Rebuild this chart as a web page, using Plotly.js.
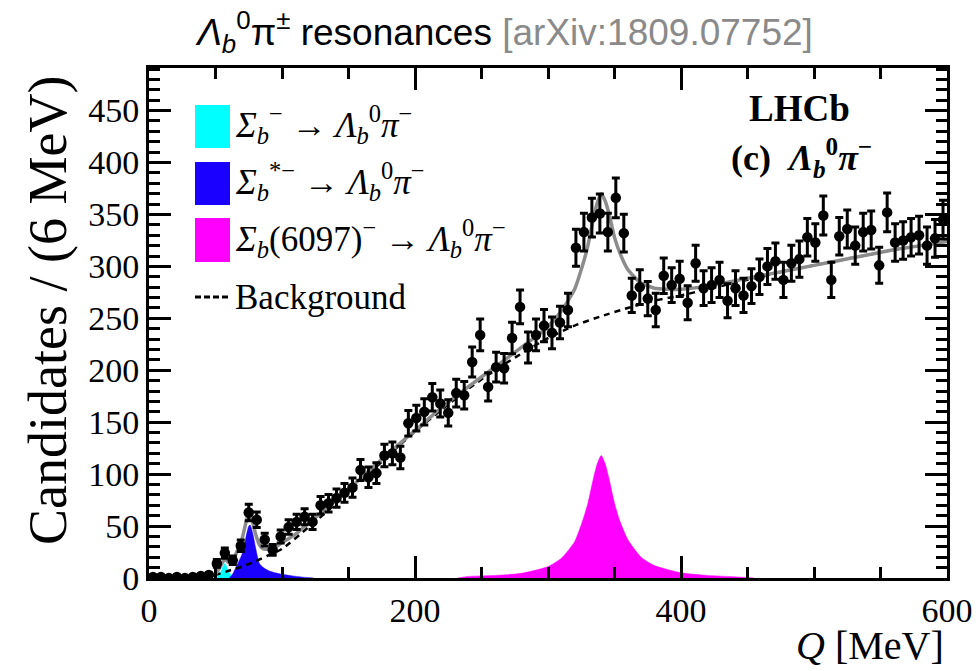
<!DOCTYPE html>
<html>
<head>
<meta charset="utf-8">
<script src="https://cdn.plot.ly/plotly-3.0.1.min.js"></script>
<style>
  html, body { margin: 0; padding: 0; background: #fff; }
  #chart { width: 979px; height: 671px; }
</style>
</head>
<body>
<div id="chart"></div>
<script>
// Q spectrum of Λb0 π− candidates, 6 MeV bins (bin centres)
const binCenters = [3,9,15,21,27,33,39,45,51,57,63,69,75,81,87,93,99,105,111,117,
  123,129,135,141,147,153,159,165,171,177,183,189,195,201,207,213,219,225,231,237,
  243,249,255,261,267,273,279,285,291,297,303,309,315,321,327,333,339,345,351,357,
  363,369,375,381,387,393,399,405,411,417,423,429,435,441,447,453,459,465,471,477,
  483,489,495,501,507,513,519,525,531,537,543,549,555,561,567,573,579,585,591,597];
const candidates = [1,1,0,1,0,1,2,3,14,24,17,31,63,56,37,27,40,49,54,59,
  54,70,72,77,82,87,104,97,101,118,120,116,149,154,160,174,168,159,178,176,
  208,234,184,203,202,231,261,222,234,243,236,246,258,318,333,347,351,333,366,332,
  272,280,269,258,291,282,288,265,303,279,282,287,267,279,272,281,290,300,305,287,
  303,307,328,323,349,287,329,336,320,333,335,301,352,323,325,328,330,320,327,345];

// Fit components
const totalQ = [0,20,40,50,54,57,60,63,66,70,73,75,77,80,83,86,90,95,100,110,120,140,160,180,200,220,240,260,280,300,310,320,326,330,334,337,340,343,346,350,354,360,370,380,390,400,420,440,460,480,500,520,540,560,580,600];
const totalFit = [0,0.3,1,4,12,18,15,17,25,38,54,62,58,43,32,28,28,30,34,42,53,74,97,120,142,164,184,203,222,242,257,278,301,320,345,361,370,363,350,328,313,297,284,279,278,278,281,286,291,296,301,306,311,316,320,324];

const bkgQ = [0,20,40,50,60,70,80,90,100,120,140,160,180,200,220,240,260,280,300,320,340,360,380,400,420,440,460,480,500,520,540,560,580,600];
const bkgFit = [0,0.2,1,3,7,11,16,22,28,49,71,94,118,141,162,182,200,216,231,243,252,260,267,272,278,284,290,296,301,306,311,316,320,324];

const sigmaBQ = [50,52,54,56,57,58,60,62,65,70];
const sigmaBFit = [0,2,6,12,14,12,6,3,1,0];

const sigmaBStarQ = [60.5,63,66,69,71,73,75,76,78,80,83,86,90,95,100,108,116,124];
const sigmaBStarFit = [0,4,12,20,27,40,50,51,43,30,14,10,7,5,3.5,2,0.8,0];

const sigma6097Q = [232,240,260,280,300,310,320,326,330,334,337,340,343,346,350,354,360,370,380,400,420,440,455];
const sigma6097Fit = [0,1.5,2.5,4.5,11,19,35,55,72,95,110,118,110,95,72,55,37,20,12,5,2.5,1.2,0];

const xTicks = [0, 200, 400, 600];
const yTicks = [0, 50, 100, 150, 200, 250, 300, 350, 400, 450];

const SERIF = 'Liberation Serif, Times New Roman, serif';
const SANS = 'Liberation Sans, Arial, sans-serif';

const fillTrace = (x, y, color) => ({
  x, y, type: 'scatter', mode: 'lines', fill: 'tozeroy',
  fillcolor: color, line: {color: color, width: 0.5, shape: 'spline', smoothing: 0.6},
  hoverinfo: 'skip', showlegend: false
});

const traces = [
  fillTrace(sigma6097Q, sigma6097Fit, '#FF00FF'),
  fillTrace(sigmaBQ, sigmaBFit, '#00FFFF'),
  fillTrace(sigmaBStarQ, sigmaBStarFit, '#1A00FF'),
  {
    x: bkgQ, y: bkgFit, type: 'scatter', mode: 'lines',
    line: {color: '#000', width: 2.5, dash: '6px,5px', shape: 'spline', smoothing: 0.6},
    showlegend: false
  },
  {
    x: totalQ, y: totalFit, type: 'scatter', mode: 'lines',
    line: {color: '#8c8c8c', width: 3.5, shape: 'spline', smoothing: 0.6},
    showlegend: false
  },
  {
    x: binCenters, y: candidates, type: 'scatter', mode: 'markers',
    marker: {color: '#000', size: 10.5, symbol: 'circle'},
    error_y: {type: 'data', array: candidates.map(v => Math.sqrt(Math.max(v, 1))),
              color: '#000', thickness: 3, width: 4},
    showlegend: false
  }
];

// paper-coordinate helpers for the in-frame legend (frame: 149..947 px, 68..578 px)
const PX = p => (p - 149) / 798;
const PY = p => (578 - p) / 510;

const swatch = (y0, y1, color) => ({
  type: 'rect', xref: 'paper', yref: 'paper',
  x0: PX(195), x1: PX(230), y0: PY(y1), y1: PY(y0),
  fillcolor: color, line: {width: 0}
});

const legendText = (py, text) => ({
  xref: 'paper', yref: 'paper', x: PX(233), y: PY(py),
  xanchor: 'left', yanchor: 'middle', showarrow: false,
  text, font: {family: SERIF, size: 35, color: '#000'}
});

const LB = '<i>Λ</i><sub><i>b</i></sub><sup>0</sup><i>π</i><sup>−</sup>';

const layout = {
  width: 979, height: 671,
  margin: {l: 149, r: 32, t: 68, b: 93},
  paper_bgcolor: '#fff', plot_bgcolor: '#fff',
  showlegend: false,
  title: {
    text: '<i>Λ</i><sub><i>b</i></sub><sup>0</sup>π<sup>±</sup> resonances <span style="color:#8a8a8a">[arXiv:1809.07752]</span>',
    font: {family: SANS, size: 37, color: '#000'},
    xref: 'container', x: 505 / 979, xanchor: 'center',
    yref: 'container', y: 1 - 32 / 671, yanchor: 'middle'
  },
  xaxis: {
    range: [0, 600], tickvals: xTicks, ticktext: xTicks.map(String),
    showline: true, linecolor: '#000', linewidth: 3, mirror: 'allticks',
    ticks: 'inside', ticklen: 22, tickwidth: 3, tickcolor: '#000',
    tickfont: {family: SERIF, size: 34, color: '#000'},
    minor: {dtick: 50, tick0: 0, ticks: 'inside', ticklen: 11, tickwidth: 3, tickcolor: '#000'},
    showgrid: false, zeroline: false
  },
  yaxis: {
    range: [0, 491], tickvals: yTicks, ticktext: yTicks.map(String),
    showline: true, linecolor: '#000', linewidth: 3, mirror: 'allticks',
    ticks: 'inside', ticklen: 22, tickwidth: 3, tickcolor: '#000',
    tickfont: {family: SERIF, size: 34, color: '#000'},
    minor: {dtick: 10, tick0: 0, ticks: 'inside', ticklen: 11, tickwidth: 3, tickcolor: '#000'},
    showgrid: false, zeroline: false
  },
  shapes: [
    swatch(105, 148, '#00FFFF'),
    swatch(162, 205, '#1A00FF'),
    swatch(218, 262, '#FF00FF'),
    {type: 'line', xref: 'paper', yref: 'paper', x0: PX(195), x1: PX(230), y0: PY(297), y1: PY(297),
     line: {color: '#000', width: 3, dash: '6px,3px'}}
  ],
  annotations: [
    legendText(124, '<i>Σ</i><sub><i>b</i></sub><sup>−</sup> → ' + LB),
    legendText(181, '<i>Σ</i><sub><i>b</i></sub><sup>*−</sup> → ' + LB),
    legendText(238, '<i>Σ</i><sub><i>b</i></sub>(6097)<sup>−</sup> → ' + LB),
    legendText(297, 'Background'),
    {xref: 'paper', yref: 'paper', x: PX(799), y: PY(108), xanchor: 'center', yanchor: 'middle',
     showarrow: false, text: '<b>LHCb</b>', font: {family: SERIF, size: 37, color: '#000'}},
    {xref: 'paper', yref: 'paper', x: PX(801), y: PY(158), xanchor: 'center', yanchor: 'middle',
     showarrow: false, text: '<b>(c)  ' + LB + '</b>',
     font: {family: SERIF, size: 36, color: '#000'}},
    {xref: 'paper', yref: 'paper', x: PX(48), y: PY(311), xanchor: 'center', yanchor: 'middle',
     textangle: -90, showarrow: false, text: 'Candidates / (6 MeV)',
     font: {family: SERIF, size: 54, color: '#000'}},
    {xref: 'paper', yref: 'paper', x: PX(946), y: PY(645), xanchor: 'right', yanchor: 'middle',
     showarrow: false, text: '<i>Q</i> [MeV]',
     font: {family: SERIF, size: 40, color: '#000'}}
  ]
};

Plotly.newPlot('chart', traces, layout, {displayModeBar: false, staticPlot: true});
</script>
</body>
</html>
